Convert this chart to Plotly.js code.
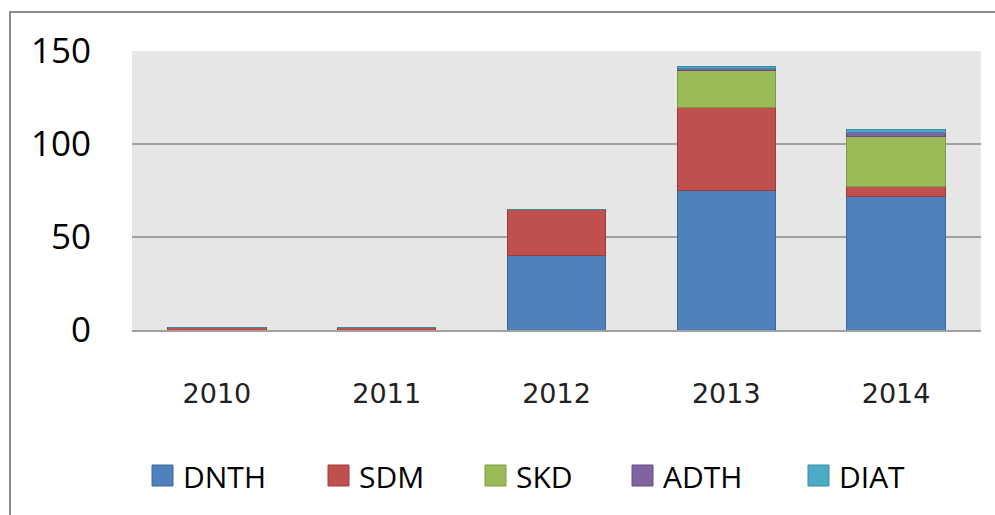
<!DOCTYPE html>
<html>
<head>
<meta charset="utf-8">
<script src="https://cdn.plot.ly/plotly-3.0.1.min.js"></script>
<style>
  html, body { margin: 0; padding: 0; background: #fff; }
  #chart { width: 995px; height: 515px; }
</style>
</head>
<body>
<div id="chart"></div>
<script>
// ---- Data ----
const years = ['2010', '2011', '2012', '2013', '2014'];
const seriesNames = ['DNTH', 'SDM', 'SKD', 'ADTH', 'DIAT'];
const dnth = [0, 0, 40, 75, 72];
const sdm  = [1.5, 1.5, 25, 44.5, 5];
const skd  = [0, 0, 0, 20, 27];
const adth = [0, 0, 0, 1.3, 2.2];
const diat = [0, 0, 0, 1, 1.8];
const yTicks = [0, 50, 100, 150];

// ---- Styles ----
const fills = ['#4F81BD', '#C0504D', '#9BBB59', '#8064A2', '#4BACC6'];
const outlines = ['#3d6699', '#9c3c3a', '#7c9a45', '#654d83', '#3a8ba1'];
const values = [dnth, sdm, skd, adth, diat];

const W = 995, H = 515;
const L = 132, R = 981, T = 51, B = 330;
const px = x => (x - L) / (R - L);
const py = y => (B - y) / (B - T);

const traces = seriesNames.map((name, i) => ({
  type: 'bar',
  name: name,
  x: years,
  y: values[i],
  marker: { color: fills[i], line: { color: outlines[i], width: 1 } },
  showlegend: false,
  hoverinfo: 'x+y+name'
}));

// manual legend (Excel-like large squares)
const legendX = [152, 328, 485, 632, 808];
const shapes = [];
const annotations = [];
seriesNames.forEach((name, i) => {
  shapes.push({
    type: 'rect', xref: 'paper', yref: 'paper',
    x0: px(legendX[i]), x1: px(legendX[i] + 21),
    y0: py(486), y1: py(465),
    fillcolor: fills[i], line: { color: outlines[i], width: 1 }
  });
  annotations.push({
    xref: 'paper', yref: 'paper',
    x: px(legendX[i] + 29), y: py(476),
    xanchor: 'left', yanchor: 'middle',
    text: name, showarrow: false,
    font: { family: 'Open Sans, sans-serif', size: 30, color: '#000' }
  });
});
// outer chart frame (top and left edges)
shapes.push({
  type: 'path', xref: 'paper', yref: 'paper',
  path: `M ${px(10)} ${py(520)} L ${px(10)} ${py(12)} L ${px(1000)} ${py(12)}`,
  line: { color: '#8c8c8c', width: 2 }
});

const layout = {
  width: W, height: H,
  margin: { l: L, r: W - R, t: T, b: H - B, pad: 0 },
  paper_bgcolor: '#ffffff',
  plot_bgcolor: '#e6e6e6',
  barmode: 'stack',
  bargap: 0.42,
  showlegend: false,
  xaxis: {
    type: 'category',
    showgrid: false,
    showline: true, linecolor: '#a0a0a0', linewidth: 2,
    ticks: '',
    ticklabelstandoff: 39,
    tickfont: { family: 'DejaVu Sans, sans-serif', size: 27, color: '#222' },
    zeroline: false,
    fixedrange: true
  },
  yaxis: {
    range: [0, 150],
    tickvals: yTicks,
    ticktext: yTicks.map(String),
    showgrid: true, gridcolor: '#a0a0a0', gridwidth: 2,
    zeroline: false,
    showline: false,
    ticks: '',
    ticklabelstandoff: 40,
    tickfont: { family: 'Open Sans, sans-serif', size: 35, color: '#000' },
    fixedrange: true
  },
  shapes: shapes,
  annotations: annotations
};

Plotly.newPlot('chart', traces, layout, { displayModeBar: false, staticPlot: true });
</script>
</body>
</html>
